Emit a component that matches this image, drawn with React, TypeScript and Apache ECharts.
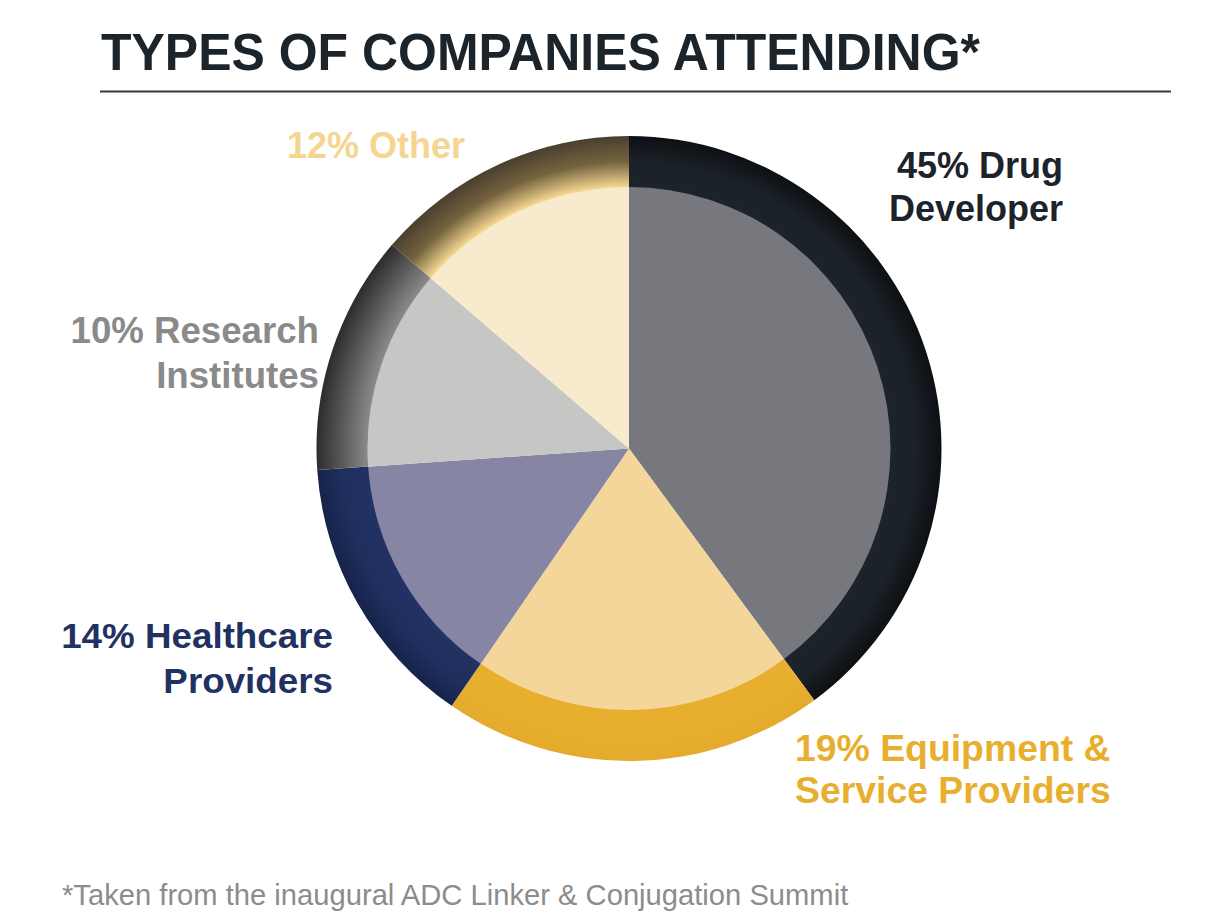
import React, { useEffect, useRef } from "react";
import * as echarts from "echarts";

// ---- data ----
const categories = [
  "Drug Developer",
  "Equipment & Service Providers",
  "Healthcare Providers",
  "Research Institutes",
  "Other",
];
// slice shares as drawn in the picture (angles measured)
const sliceShares = [39.9, 19.7, 14.3, 12.4, 13.7];
// percentages printed in the labels
const labelPercents = [45, 19, 14, 10, 12];
const labelFirstLine = ["Drug", "Equipment &", "Healthcare", "Research", "Other"];
const labelSecondLine = ["Developer", "Service Providers", "Providers", "Institutes", ""];

const titleText = "TYPES OF COMPANIES ATTENDING*";
const footnoteText = "*Taken from the inaugural ADC Linker & Conjugation Summit";

// ---- styles ----
const FONT = '"Liberation Sans", Arial, Helvetica, sans-serif';
const innerColors = ["#77787d", "#f4d69b", "#8685a3", "#c6c6c5", "#f8eacc"];
const labelColors = ["#1c232b", "#e8af2e", "#1f3261", "#8a8a8a", "#f5d591"];
const CX = 629;
const CY = 448.5;
const R_OUT = 312.5;
const R_IN = 261.5;
const ringStops: string[][] = [
  ["#1c232a", "#1b2128", "#0d1013"],
  ["#e8af2e", "#e8af2e", "#e4aa2c"],
  ["#213263", "#1f305f", "#16234a"],
  ["#8a8a8a", "#5a5a5a", "#2c2c2c"],
  ["#f6d892", "#75633f", "#4a3f2e"],
];
// label anchor layout: [x, yTop, align, lineHeight, scaleX]
const labelLayout: [number, number, string, number, number][] = [
  [1063, 144.6, "right", 42.4, 1.0],
  [795, 728.4, "left", 41.6, 1.038],
  [333, 613.3, "right", 45, 1.022],
  [319, 308.3, "right", 45, 1.018],
  [287, 124.8, "left", 42, 1.0],
];

function ringColor(i: number) {
  const s = ringStops[i];
  const k = R_IN / R_OUT;
  return {
    type: "radial",
    x: CX,
    y: CY,
    r: R_OUT,
    global: true,
    colorStops: [
      { offset: 0, color: s[0] },
      { offset: k, color: s[0] },
      { offset: k + (1 - k) * 0.5, color: s[1] },
      { offset: 1, color: s[2] },
    ],
  };
}

export default function App() {
  const ref = useRef<HTMLDivElement>(null);
  useEffect(() => {
    if (!ref.current) return;
    const chart = echarts.init(ref.current, null, { renderer: "svg" });

    const innerData = categories.map((name, i) => ({
      name,
      value: sliceShares[i],
      itemStyle: { color: innerColors[i] },
    }));
    const outerData = categories.map((name, i) => ({
      name,
      value: sliceShares[i],
      itemStyle: { color: ringColor(i) },
    }));

    const labelGraphics = categories.map((_, i) => {
      const [x, y, align, lh, sx] = labelLayout[i];
      const txt =
        `${labelPercents[i]}% ${labelFirstLine[i]}` +
        (labelSecondLine[i] ? `\n${labelSecondLine[i]}` : "");
      return {
        type: "text",
        x,
        y,
        scaleX: sx,
        silent: true,
        style: {
          text: txt,
          fill: labelColors[i],
          font: `bold 36px ${FONT}`,
          align,
          verticalAlign: "top",
          lineHeight: lh,
        },
      };
    });

    chart.setOption({
      animation: false,
      backgroundColor: "#ffffff",
      series: [
        {
          type: "pie",
          center: [CX, CY],
          radius: [0, R_IN + 1],
          startAngle: 90,
          clockwise: true,
          silent: true,
          label: { show: false },
          labelLine: { show: false },
          itemStyle: { borderWidth: 0 },
          emphasis: { disabled: true },
          data: innerData,
        },
        {
          type: "pie",
          center: [CX, CY],
          radius: [R_IN, R_OUT],
          startAngle: 90,
          clockwise: true,
          silent: true,
          label: { show: false },
          labelLine: { show: false },
          itemStyle: { borderWidth: 0 },
          emphasis: { disabled: true },
          data: outerData,
        },
      ],
      graphic: [
        {
          type: "text",
          x: 101,
          y: 22,
          scaleX: 0.961,
          silent: true,
          style: {
            text: titleText,
            fill: "#1b232b",
            font: `bold 52px ${FONT}`,
            align: "left",
            verticalAlign: "top",
            lineHeight: 60,
          },
        },
        {
          type: "line",
          silent: true,
          shape: { x1: 100, y1: 91.5, x2: 1171, y2: 91.5 },
          style: { stroke: "#33393f", lineWidth: 2 },
        },
        ...labelGraphics,
        {
          type: "text",
          x: 62,
          y: 878,
          scaleX: 1.006,
          silent: true,
          style: {
            text: footnoteText,
            fill: "#8c8c8c",
            font: `29px ${FONT}`,
            align: "left",
            verticalAlign: "top",
            lineHeight: 34,
          },
        },
      ],
    });
    return () => chart.dispose();
  }, []);

  return (
    <div
      ref={ref}
      style={{ position: "absolute", left: 0, top: 0, width: 1210, height: 924 }}
    />
  );
}
